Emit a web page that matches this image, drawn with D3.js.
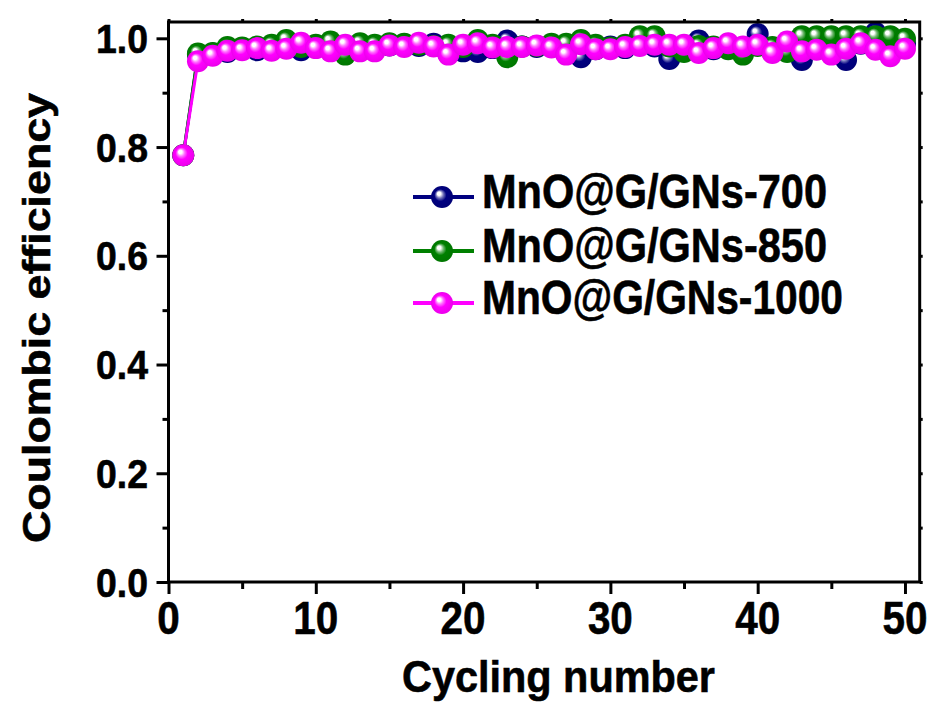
<!DOCTYPE html>
<html>
<head>
<meta charset="utf-8">
<script src="https://cdn.jsdelivr.net/npm/d3@7"></script>
<style>
  body { margin: 0; background: #fff; }
  text { font-family: "Liberation Sans", Arial, sans-serif; font-weight: bold; stroke: #000; stroke-width: 0.6px; }
</style>
</head>
<body>
<div id="chart"></div>
<script>
// data
var cycles = d3.range(1, 51);

var ce700 = [0.785, 0.970, 0.972, 0.975, 0.980, 0.978, 0.982, 0.985, 0.978, 0.986,
             0.988, 0.980, 0.984, 0.985, 0.987, 0.989, 0.986, 0.990, 0.972, 0.976,
             0.975, 0.982, 0.996, 0.985, 0.984, 0.986, 0.983, 0.965, 0.980, 0.985,
             0.982, 0.990, 0.985, 0.962, 0.980, 0.996, 0.980, 0.982, 0.980, 1.008,
             0.975, 0.985, 0.960, 0.988, 0.985, 0.960, 0.990, 1.010, 0.985, 0.990];

var ce850 = [0.785, 0.972, 0.973, 0.984, 0.983, 0.985, 0.988, 0.997, 0.984, 0.988,
             0.994, 0.970, 0.991, 0.988, 0.991, 0.990, 0.988, 0.986, 0.988, 0.984,
             0.997, 0.988, 0.965, 0.985, 0.986, 0.990, 0.990, 0.997, 0.988, 0.983,
             0.988, 1.004, 1.004, 0.985, 0.975, 0.986, 0.985, 0.980, 0.970, 0.986,
             0.984, 0.975, 1.004, 1.004, 1.004, 1.004, 1.004, 1.004, 1.004, 0.999];

var ce1000 = [0.785, 0.958, 0.968, 0.977, 0.978, 0.982, 0.977, 0.981, 0.992, 0.982,
              0.976, 0.988, 0.976, 0.976, 0.987, 0.984, 0.992, 0.985, 0.970, 0.988,
              0.991, 0.983, 0.984, 0.984, 0.987, 0.983, 0.970, 0.989, 0.980, 0.980,
              0.984, 0.986, 0.988, 0.988, 0.988, 0.973, 0.982, 0.991, 0.985, 0.988,
              0.973, 0.994, 0.976, 0.979, 0.970, 0.981, 0.991, 0.979, 0.967, 0.981];

var seriesNames = ["MnO@G/GNs-700", "MnO@G/GNs-850", "MnO@G/GNs-1000"];
var seriesColors = ["#000080", "#008000", "#ff00ff"];
var seriesValues = [ce700, ce850, ce1000];

var xTicks = [0, 10, 20, 30, 40, 50];
var xMinorTicks = [5, 15, 25, 35, 45];
var yTicks = [0.0, 0.2, 0.4, 0.6, 0.8, 1.0];
var yMinorTicks = [0.1, 0.3, 0.5, 0.7, 0.9];

// size
var W = 934, H = 708;

var svg = d3.select("#chart")
  .append("svg")
  .attr("width", W)
  .attr("height", H);

// scales
var x = d3.scaleLinear().domain([0, 51]).range([168.5, 919.7]);
var y = d3.scaleLinear().domain([0, 1.03]).range([582, 22]);

// sphere gradients
var defs = svg.append("defs");
seriesColors.forEach(function(c, i){
  var gr = defs.append("radialGradient")
    .attr("id", "ball" + i)
    .attr("cx", "50%").attr("cy", "50%").attr("r", "50%")
    .attr("fx", "34%").attr("fy", "32%");
  gr.append("stop").attr("offset", "0%").attr("stop-color", "#ffffff");
  gr.append("stop").attr("offset", "16%").attr("stop-color", "#ffffff");
  gr.append("stop").attr("offset", "34%").attr("stop-color", d3.interpolateRgb("#ffffff", c)(0.55));
  gr.append("stop").attr("offset", "55%").attr("stop-color", c);
  gr.append("stop").attr("offset", "100%").attr("stop-color", d3.interpolateRgb(c, "#000")(0.08));
});

// series
var line = d3.line()
  .x(function(d){ return x(d.c); })
  .y(function(d){ return y(d.v); });

seriesValues.forEach(function(vals, i){
  var pts = vals.map(function(v, k){ return { c: cycles[k], v: v }; });
  var g = svg.append("g").attr("class", "series");
  g.append("path")
    .datum(pts)
    .attr("fill", "none")
    .attr("stroke", seriesColors[i])
    .attr("stroke-width", 3)
    .attr("d", line);
  g.selectAll("circle")
    .data(pts)
    .enter()
    .append("circle")
      .attr("cx", function(d){ return x(d.c); })
      .attr("cy", function(d){ return y(d.v); })
      .attr("r", 11)
      .attr("fill", "url(#ball" + i + ")");
});

// axes
var bottomMajor = d3.axisBottom(x).tickValues(xTicks).tickSize(12).tickFormat("");
var bottomMinor = d3.axisBottom(x).tickValues(xMinorTicks).tickSize(7).tickFormat("");
var leftMajor = d3.axisLeft(y).tickValues(yTicks).tickSize(12).tickFormat("");
var leftMinor = d3.axisLeft(y).tickValues(yMinorTicks).tickSize(6).tickFormat("");
var topTicks = d3.axisTop(x).tickValues(xTicks.concat(xMinorTicks)).tickSize(3).tickFormat("");
var rightTicks = d3.axisRight(y).tickValues(yTicks.concat(yMinorTicks)).tickSize(3).tickFormat("");

function styleAxis(sel){
  sel.selectAll(".domain").remove();
  sel.selectAll("line").attr("stroke", "#000").attr("stroke-width", 3);
}

svg.append("g").attr("transform", "translate(0," + y(0) + ")").call(bottomMajor).call(styleAxis);
svg.append("g").attr("transform", "translate(0," + y(0) + ")").call(bottomMinor).call(styleAxis);
svg.append("g").attr("transform", "translate(" + x(0) + ",0)").call(leftMajor).call(styleAxis);
svg.append("g").attr("transform", "translate(" + x(0) + ",0)").call(leftMinor).call(styleAxis);
svg.append("g").attr("transform", "translate(0," + y(1.03) + ")").call(topTicks).call(styleAxis);
svg.append("g").attr("transform", "translate(" + x(51) + ",0)").call(rightTicks).call(styleAxis);

// frame
svg.append("rect")
  .attr("x", x(0))
  .attr("y", y(1.03))
  .attr("width", x(51) - x(0))
  .attr("height", y(0) - y(1.03))
  .attr("fill", "none")
  .attr("stroke", "#000")
  .attr("stroke-width", 3);

// tick labels
svg.append("g").selectAll("text")
  .data(xTicks)
  .enter()
  .append("text")
    .attr("x", function(d){ return x(d); })
    .attr("y", 634)
    .attr("text-anchor", "middle")
    .attr("font-size", 47)
    .attr("textLength", function(d){ return 22.5 * String(d).length; })
    .attr("lengthAdjust", "spacingAndGlyphs")
    .text(function(d){ return d; });

svg.append("g").selectAll("text")
  .data(yTicks)
  .enter()
  .append("text")
    .attr("x", 148)
    .attr("y", function(d){ return y(d) + 14.5; })
    .attr("text-anchor", "end")
    .attr("font-size", 41)
    .attr("textLength", 52)
    .attr("lengthAdjust", "spacingAndGlyphs")
    .text(function(d){ return d3.format(".1f")(d); });

// axis titles
svg.append("text")
  .attr("x", 402)
  .attr("y", 692)
  .attr("font-size", 44)
  .attr("textLength", 313)
  .attr("lengthAdjust", "spacingAndGlyphs")
  .text("Cycling number");

svg.append("text")
  .attr("transform", "translate(50,318) rotate(-90)")
  .attr("text-anchor", "middle")
  .attr("font-size", 39)
  .attr("textLength", 450)
  .attr("lengthAdjust", "spacingAndGlyphs")
  .text("Coulombic efficiency");

// legend
var legendY = [197, 251, 303];
var legendW = [345, 345, 361];
var legend = svg.append("g").attr("class", "legend");
seriesNames.forEach(function(name, i){
  var row = legend.append("g");
  row.append("line")
    .attr("x1", 413).attr("x2", 474)
    .attr("y1", legendY[i]).attr("y2", legendY[i])
    .attr("stroke", seriesColors[i])
    .attr("stroke-width", 4);
  row.append("circle")
    .attr("cx", 442).attr("cy", legendY[i])
    .attr("r", 11)
    .attr("fill", "url(#ball" + i + ")");
  row.append("text")
    .attr("x", 482)
    .attr("y", legendY[i] + 11)
    .attr("font-size", 48)
    .attr("textLength", legendW[i])
    .attr("lengthAdjust", "spacingAndGlyphs")
    .text(name);
});
</script>
</body>
</html>
